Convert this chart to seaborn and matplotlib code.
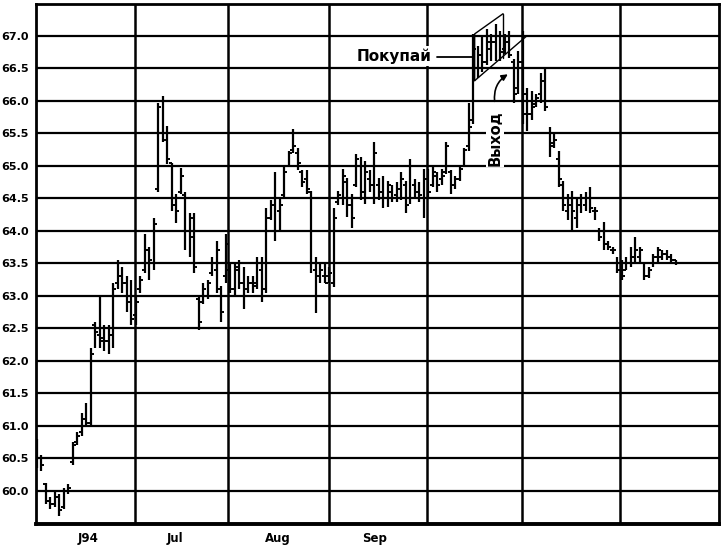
import numpy as np
import matplotlib
matplotlib.use("Agg")
from matplotlib import pyplot as plt
from matplotlib.transforms import blended_transform_factory
import seaborn as sns

# daily bars (open, high, low, close)
opens = [60.7, 60.5, 60.1, 59.85, 59.8, 59.9, 59.75, 60.0, 60.45, 60.75,
         60.9, 61.1, 61.05, 62.55, 62.4, 62.35, 62.3, 62.4, 63.2, 63.3,
         63.2, 63.0, 62.7, 63.1, 63.4, 63.7, 63.5, 64.65, 65.5, 65.5,
         65.05, 64.4, 64.6, 64.55, 64.0, 64.2, 62.95, 62.9, 63.0, 63.35,
         63.4, 63.1, 63.3, 63.4, 63.1, 63.45, 63.2, 63.1, 63.2, 63.2,
         63.4, 63.1, 64.2, 64.0, 64.3, 64.55, 65.0, 65.25, 65.2, 64.9,
         64.8, 64.6, 63.4, 63.3, 63.3, 63.3, 63.2, 64.45, 64.5, 64.75,
         64.4, 64.7, 65.0, 64.6, 64.8, 64.7, 64.7, 64.6, 64.5, 64.6,
         64.55, 64.5, 64.7, 64.5, 64.7, 64.6, 64.5, 64.8, 64.7, 64.85,
         64.8, 64.9, 64.9, 64.7, 64.8, 65.0, 65.3, 65.7, 66.5, 66.7,
         66.6, 66.8, 66.9, 67.0, 66.8, 66.9, 66.6, 66.2, 66.6, 66.1,
         65.8, 65.95, 66.1, 66.3, 65.5, 65.35, 65.1, 64.7, 64.3, 64.5,
         64.2, 64.4, 64.4, 64.5, 64.3, 64.0, 64.0, 63.8, 63.7, 63.5,
         63.4, 63.4, 63.5, 63.6, 63.6, 63.5, 63.3, 63.5, 63.6, 63.6,
         63.65, 63.6, 63.55]
highs = [60.8, 60.55, 60.12, 59.9, 60.0, 59.95, 60.05, 60.1, 60.75, 60.9,
         61.2, 61.35, 62.2, 62.6, 62.98, 62.55, 62.55, 63.2, 63.55, 63.45,
         63.3, 63.25, 63.0, 63.3, 63.95, 63.75, 64.2, 65.97, 66.08, 65.62,
         65.05, 64.57, 64.96, 64.59, 64.27, 64.27, 63.0, 63.2, 63.25, 63.6,
         63.85, 63.15, 63.95, 63.5, 63.5, 63.55, 63.45, 63.3, 63.3, 63.6,
         63.6, 64.35, 64.47, 64.9, 64.51, 65.0, 65.23, 65.57, 65.28, 64.93,
         64.93, 64.62, 63.6, 63.5, 63.5, 63.45, 64.35, 64.62, 64.95, 64.82,
         64.57, 65.18, 65.13, 65.08, 64.93, 65.36, 64.82, 64.85, 64.77, 64.7,
         64.75, 64.9, 64.77, 65.1, 64.8, 64.75, 64.95, 64.95, 65.0, 64.9,
         64.95, 65.36, 64.93, 64.85, 65.0, 65.28, 65.96, 67.03, 66.85, 67.0,
         67.1, 67.03, 67.18, 67.08, 67.03, 67.08, 66.65, 66.77, 67.08, 66.2,
         66.15, 66.1, 66.43, 66.5, 65.59, 65.5, 65.23, 64.77, 64.57, 64.62,
         64.51, 64.57, 64.6, 64.67, 64.36, 64.05, 64.13, 63.85, 63.75, 63.59,
         63.55, 63.59, 63.75, 63.9, 63.75, 63.5, 63.44, 63.65, 63.75, 63.7,
         63.7, 63.65, 63.55]
lows = [60.35, 60.3, 59.8, 59.72, 59.75, 59.62, 59.72, 59.95, 60.4, 60.7,
        60.85, 61.0, 61.0, 62.2, 62.2, 62.15, 62.1, 62.2, 63.1, 63.05,
        62.75, 62.55, 62.55, 63.05, 63.35, 63.25, 63.4, 64.6, 65.36, 65.03,
        64.31, 64.12, 64.57, 63.7, 63.6, 63.35, 62.47, 62.88, 62.95, 63.3,
        63.05, 62.6, 63.2, 63.04, 62.98, 63.1, 62.8, 63.04, 63.05, 63.1,
        62.9, 63.05, 64.16, 63.85, 64.0, 64.51, 64.98, 65.19, 64.93, 64.67,
        64.57, 63.35, 62.73, 63.19, 63.19, 63.2, 63.13, 64.4, 64.4, 64.21,
        64.05, 64.67, 64.47, 64.42, 64.6, 64.42, 64.47, 64.35, 64.36, 64.45,
        64.45, 64.47, 64.27, 64.42, 64.5, 64.45, 64.2, 64.5, 64.67, 64.6,
        64.7, 64.88, 64.57, 64.65, 64.77, 64.98, 65.23, 65.65, 66.35, 66.45,
        66.55, 66.62, 66.62, 66.62, 66.72, 66.66, 65.96, 66.11, 65.65, 65.54,
        65.7, 65.9, 65.96, 65.85, 65.13, 65.28, 64.67, 64.31, 64.16, 64.0,
        64.05, 64.27, 64.3, 64.27, 64.16, 63.85, 63.7, 63.7, 63.65, 63.35,
        63.24, 63.39, 63.44, 63.5, 63.5, 63.24, 63.28, 63.44, 63.5, 63.55,
        63.55, 63.5, 63.48]
closes = [60.5, 60.4, 59.85, 59.8, 59.9, 59.7, 60.0, 60.05, 60.7, 60.85,
          61.1, 61.05, 62.1, 62.45, 62.3, 62.3, 62.4, 63.1, 63.3, 63.2,
          62.9, 62.65, 62.9, 63.25, 63.7, 63.55, 64.1, 65.9, 65.4, 65.1,
          64.4, 64.3, 64.85, 64.0, 63.9, 63.45, 62.6, 63.1, 63.2, 63.5,
          63.7, 62.75, 63.8, 63.1, 63.4, 63.2, 63.0, 63.2, 63.15, 63.5,
          63.1, 64.2, 64.4, 64.5, 64.4, 64.9, 65.2, 65.3, 65.05, 64.75,
          64.65, 63.5, 63.0, 63.4, 63.2, 63.35, 64.2, 64.55, 64.85, 64.4,
          64.2, 65.1, 64.6, 64.9, 64.7, 65.2, 64.6, 64.5, 64.7, 64.5,
          64.65, 64.8, 64.4, 65.0, 64.6, 64.55, 64.8, 64.6, 64.9, 64.7,
          64.85, 65.3, 64.7, 64.8, 64.95, 65.25, 65.6, 66.8, 66.7, 66.6,
          66.9, 66.9, 67.0, 66.75, 66.9, 66.7, 66.1, 66.6, 65.8, 65.8,
          65.9, 66.05, 66.3, 65.9, 65.3, 65.4, 64.8, 64.4, 64.4, 64.3,
          64.4, 64.5, 64.5, 64.35, 64.3, 63.9, 63.8, 63.75, 63.7, 63.4,
          63.3, 63.5, 63.6, 63.7, 63.7, 63.3, 63.4, 63.6, 63.7, 63.65,
          63.6, 63.55, 63.5]

month_lines = [21.8, 42.4, 64.9, 86.7, 107.8, 129.6]
month_labels = ["J94", "Jul", "Aug", "Sep"]
month_label_pos = [11.3, 30.7, 53.6, 75.1]
price_ticks = [60.0, 60.5, 61.0, 61.5, 62.0, 62.5, 63.0, 63.5,
               64.0, 64.5, 65.0, 65.5, 66.0, 66.5, 67.0]

sns.set_style("white")
plt.rcParams['font.family'] = ['DejaVu Sans']
plt.rcParams['text.color'] = 'black'
plt.rcParams['xtick.color'] = 'black'
plt.rcParams['ytick.color'] = 'black'

fig = plt.figure(figsize=(7.24, 5.45), dpi=100)
ax = fig.add_axes([0.0497, 0.0385, 0.9434, 0.9542])

x = np.arange(len(closes))
ax.set_xlim(-0.2, 151.6)
ax.set_ylim(59.49, 67.49)

# grid
for v in price_ticks:
    ax.axhline(v, color="black", lw=1.6, zorder=1)
for m in month_lines:
    ax.axvline(m, color="black", lw=1.8, zorder=1)

# bars
ax.vlines(x, lows, highs, color="black", lw=1.6, zorder=3)
ax.hlines(opens, x - 0.65, x, color="black", lw=1.4, zorder=3)
ax.hlines(closes, x, x + 0.65, color="black", lw=1.4, zorder=3)

# channel around the breakout
ax.plot([97.3, 97.3, 103.6], [66.31, 67.03, 67.34], color="black", lw=1.0, zorder=4)
ax.plot([97.3, 108.9], [66.31, 67.0], color="black", lw=1.0, zorder=4)
ax.plot([103.6, 103.6], [67.34, 66.66], color="black", lw=1.0, zorder=4)

# annotations
ax.text(79.3, 66.69, "Покупай", fontsize=11, fontweight="bold",
        ha="center", va="center", zorder=5,
        bbox=dict(facecolor="white", edgecolor="none", pad=1.5))
ax.plot([88.9, 97.0], [66.68, 66.68], color="black", lw=1.3, zorder=4)
ax.text(101.8, 65.43, "Выход", fontsize=10.5, fontweight="bold", rotation=90,
        ha="center", va="center", zorder=5,
        bbox=dict(facecolor="white", edgecolor="none", pad=1.0))
ax.annotate("", xy=(105.2, 66.43), xytext=(101.8, 65.95),
            arrowprops=dict(arrowstyle="-|>", color="black", lw=1.2,
                            mutation_scale=9,
                            connectionstyle="arc3,rad=-0.35"), zorder=5)

# axes
for s in ax.spines.values():
    s.set_color("black")
    s.set_linewidth(2)
ax.spines["bottom"].set_linewidth(2.8)

ax.set_yticks(price_ticks)
ax.set_yticklabels([f"{v:.1f}" for v in price_ticks], fontsize=8, fontweight="bold")
ax.tick_params(axis="y", length=0, pad=5)

ax.set_xticks(month_lines)
ax.set_xticklabels([])
ax.set_xticks(np.arange(0.9, 151.5, 4.98), minor=True)
ax.tick_params(axis="x", which="major", direction="inout", length=9, width=1.8)
ax.tick_params(axis="x", which="minor", direction="inout", length=6, width=1.3)

trans = blended_transform_factory(ax.transData, ax.transAxes)
for lab, pos in zip(month_labels, month_label_pos):
    ax.text(pos, -0.028, lab, transform=trans, fontsize=8.5, fontweight="bold",
            color="black", ha="center", va="center")

fig.savefig("out.png", dpi=100)
